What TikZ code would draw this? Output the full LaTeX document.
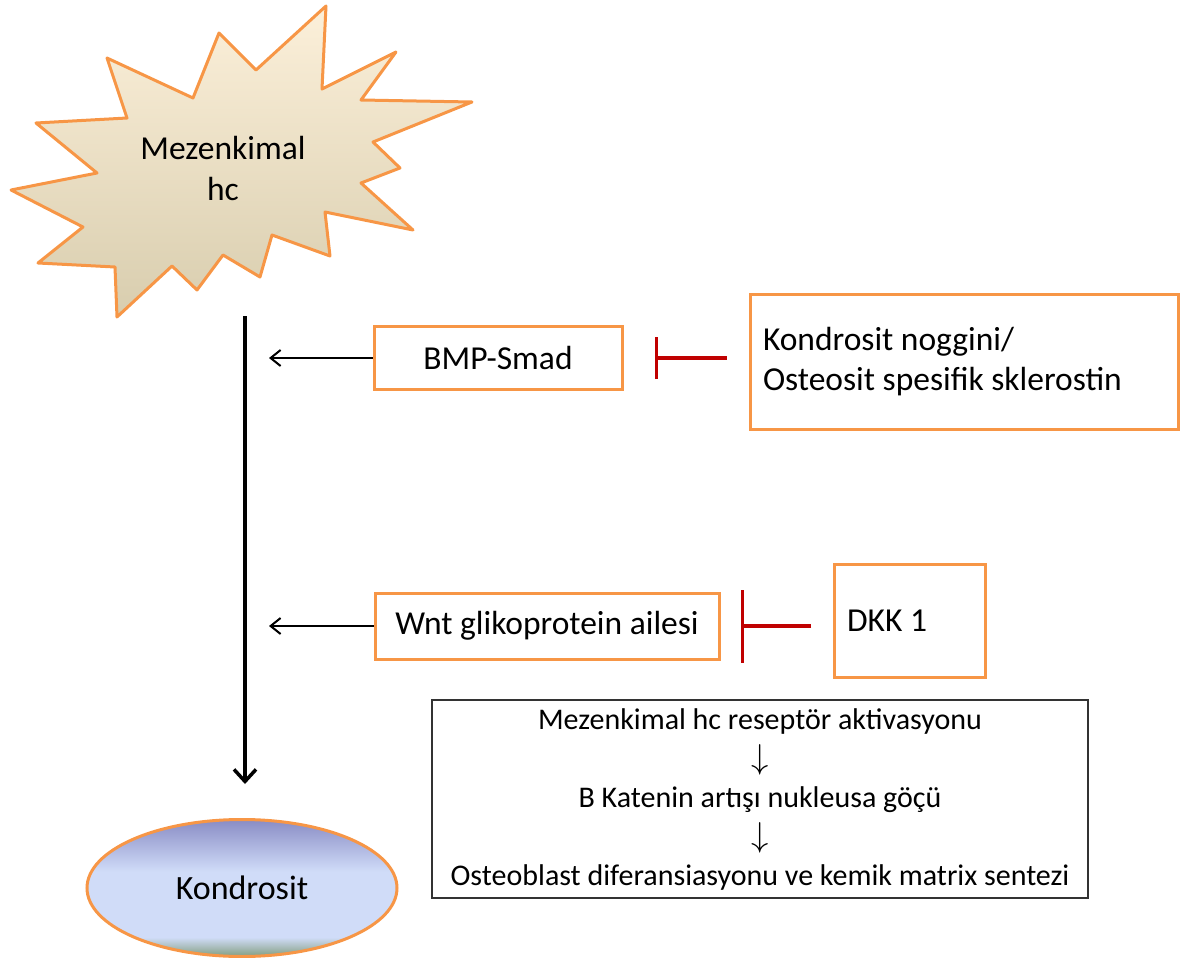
\documentclass[tikz,border=0pt]{standalone}
\usepackage{fontspec}
\setmainfont{Carlito}
\usetikzlibrary{arrows.meta,shapes.geometric}
\definecolor{borange}{HTML}{F79646}
\definecolor{inhred}{HTML}{C00000}
\definecolor{startop}{HTML}{FCF0DA}
\definecolor{starbot}{HTML}{D8CDAE}
\definecolor{kpurple}{HTML}{898CC5}
\definecolor{klight}{HTML}{D0DCF8}
\definecolor{kgreen}{HTML}{8DA690}
\pgfdeclareverticalshading{kondshade}{100bp}{color(0bp)=(kgreen); color(26bp)=(kgreen); color(32bp)=(klight); color(56bp)=(klight); color(75bp)=(kpurple); color(100bp)=(kpurple)}
\begin{document}
\begin{tikzpicture}[x=0.5pt, y=-0.5pt,
  obox/.style={draw=borange, line width=1.5pt, inner sep=0pt, font=\fontsize{16.75}{20}\selectfont},
  sig/.style={-{Straight Barb[length=5pt,width=8pt]}, line width=1pt},
  inh/.style={-{Bar[width=#1]}, draw=inhred, line width=1.75pt}]
  \useasboundingbox (0,0) rectangle (1184,958);
  % stem cell burst
  \draw[borange, line width=1.5pt, line join=round, top color=startop, bottom color=starbot]
    (326,6) -- (322,89) -- (396,52) -- (361,100) -- (472,102) -- (373,142) -- (400,168)
    -- (361,183) -- (413,230) -- (325,212) -- (330,256) -- (272,235) -- (260,277)
    -- (223,255) -- (197,290) -- (172,266) -- (117,317) -- (115,267) -- (38,263)
    -- (83,227) -- (11,190) -- (97,173) -- (36,123) -- (127,118) -- (107,58)
    -- (193,98) -- (219,33) -- (256,70) -- cycle;
  \node[align=flush center, font=\fontsize{16.75}{20.5}\selectfont] (mhc) at (223,168) {Mezenkimal\\hc};
  % signalling boxes
  \node[obox, minimum width=124pt, minimum height=31.5pt] (bmp) at (498,358) {BMP-Smad};
  \node[obox, minimum height=67.5pt, text width=201pt, inner xsep=6.5pt, align=flush left] (nog) at (964,362) {Kondrosit noggini/\\Osteosit spesifik sklerostin};
  \node[obox, minimum width=172pt, minimum height=33pt] (wnt) at (547,626) {Wnt glikoprotein ailesi};
  \node[obox, minimum height=56.5pt, text width=63pt, inner xsep=6.25pt, align=flush left] (dkk) at (910,621) {DKK 1};
  \node[draw=black!80, line width=0.6pt, minimum width=328pt, minimum height=99pt, align=flush center,
    font=\fontsize{15}{19.5}\selectfont] (seq) at (760,799)
    {Mezenkimal hc reseptör aktivasyonu\\{\fontsize{19}{19}\selectfont$\downarrow$}\\B Katenin artışı nukleusa göçü\\{\fontsize{19}{19}\selectfont$\downarrow$}\\Osteoblast diferansiasyonu ve kemik matrix sentezi};
  \node[ellipse, draw=borange, line width=1.5pt, shading=kondshade, minimum width=155pt, minimum height=68.5pt,
    inner sep=0pt, font=\fontsize{17}{20}\selectfont] (kond) at (242,888) {Kondrosit};
  % connectors
  \coordinate (mtop) at (245,316);
  \draw[-{Straight Barb[length=6pt,width=11pt]}, line width=1.75pt, shorten >=17pt] (mtop) -- (mtop |- kond.north);
  \draw[sig, shorten >=12pt] (bmp) -- (bmp -| mtop);
  \draw[sig, shorten >=12pt] (wnt) -- (wnt -| mtop);
  \draw[inh=21pt, shorten <=11pt, shorten >=15.5pt] (nog.west |- bmp) -- (bmp.east);
  \draw[inh=36.5pt, shorten <=11pt, shorten >=10pt] (dkk.west |- wnt) -- (wnt.east);
\end{tikzpicture}
\end{document}
